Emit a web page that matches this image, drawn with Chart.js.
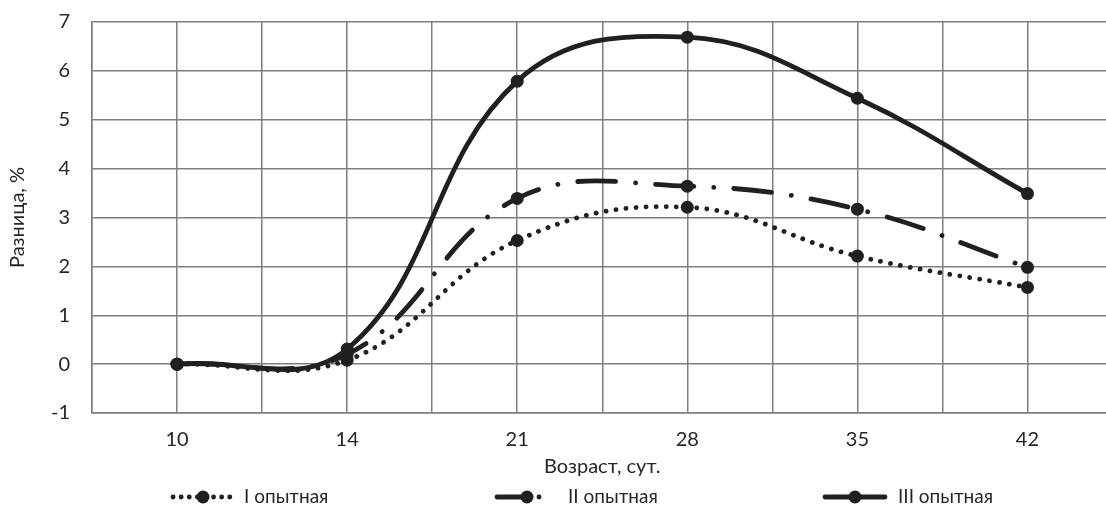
<!DOCTYPE html>
<html>
<head>
<meta charset="utf-8">
<script src="https://cdn.jsdelivr.net/npm/chart.js@4/dist/chart.umd.min.js"></script>
<style>
  html, body { margin: 0; padding: 0; background: #fff; overflow: hidden; }
  #wrap { width: 1119px; height: 515px; }
</style>
</head>
<body>
<div id="wrap"><canvas id="myChart"></canvas></div>
<script>
// Data
var days = ["10", "14", "21", "28", "35", "42"];
var exp1 = [0, 0.08, 2.53, 3.21, 2.21, 1.57];
var exp2 = [0, 0.2, 3.39, 3.64, 3.17, 1.98];
var exp3 = [0, 0.31, 5.79, 6.69, 5.44, 3.49];
var seriesNames = ["I опытная", "II опытная", "III опытная"];
var yMin = -1, yMax = 7;

var ink = '#231f20';
var textColor = '#262626';
var gridColor = '#7f7f7f';
var fontFamily = 'Lato, "Open Sans", sans-serif';

var dashes = [[0.1, 10], [38, 20, 0.1, 20], []];

function toPoints(arr) {
  return arr.map(function (v, i) { return { x: i, y: v }; });
}

function makeSet(label, arr, dash) {
  return {
    label: label,
    data: toPoints(arr),
    borderColor: ink,
    backgroundColor: ink,
    borderWidth: 4.8,
    borderDash: dash,
    borderCapStyle: 'round',
    tension: 0.4,
    pointRadius: 6.5,
    pointBackgroundColor: ink,
    pointBorderWidth: 0,
    fill: false
  };
}

// legend drawn by hand: line sample with marker, then text
var legendItems = [
  { x1: 173, x2: 233, tx: 244 },
  { x1: 497, x2: 557, tx: 568 },
  { x1: 825, x2: 885, tx: 898 }
];
var legendDash = [[0.1, 8], [28, 14, 0.1, 20], []];
var legendY = 497;

var legendPlugin = {
  id: 'handLegend',
  afterDraw: function (chart) {
    var ctx = chart.ctx;
    ctx.save();
    for (var i = 0; i < legendItems.length; i++) {
      var it = legendItems[i];
      ctx.strokeStyle = ink;
      ctx.lineWidth = 4.8;
      ctx.lineCap = 'round';
      ctx.setLineDash(legendDash[i]);
      ctx.beginPath();
      ctx.moveTo(it.x1, legendY);
      ctx.lineTo(it.x2, legendY);
      ctx.stroke();
      ctx.setLineDash([]);
      ctx.fillStyle = ink;
      ctx.beginPath();
      ctx.arc((it.x1 + it.x2) / 2, legendY, 6.5, 0, Math.PI * 2);
      ctx.fill();
      ctx.fillStyle = textColor;
      ctx.font = '19px ' + fontFamily;
      ctx.textAlign = 'left';
      ctx.textBaseline = 'middle';
      ctx.fillText(seriesNames[i], it.tx, legendY);
    }
    ctx.restore();
  }
};

var ctx = document.getElementById('myChart');
var myChart = new Chart(ctx, {
  type: 'line',
  data: {
    datasets: [
      makeSet(seriesNames[0], exp1, dashes[0]),
      makeSet(seriesNames[1], exp2, dashes[1]),
      makeSet(seriesNames[2], exp3, dashes[2])
    ]
  },
  options: {
    animation: false,
    responsive: true,
    maintainAspectRatio: false,
    layout: { padding: { top: 22, bottom: 32, left: 0, right: 0 } },
    plugins: {
      legend: { display: false },
      tooltip: { enabled: false }
    },
    scales: {
      x: {
        type: 'linear',
        min: -0.5,
        max: 5.5,
        afterFit: function (scale) { scale.height = 70; },
        // invisible tick marks give the label gap without extra layout padding
        grid: { color: gridColor, lineWidth: 1.5, drawTicks: true, tickLength: 15, tickColor: 'rgba(0,0,0,0)' },
        border: { color: gridColor, width: 1.5 },
        ticks: {
          stepSize: 0.5,
          autoSkip: false,
          maxRotation: 0,
          padding: 0,
          color: textColor,
          font: { family: fontFamily, size: 20 },
          callback: function (val) {
            return Number.isInteger(val) ? days[val] : '';
          }
        },
        title: {
          display: true,
          text: 'Возраст, сут.',
          color: textColor,
          font: { family: fontFamily, size: 20 },
          padding: { top: 0, bottom: 4 }
        }
      },
      y: {
        min: yMin,
        max: yMax,
        afterFit: function (scale) { scale.width = 92; },
        grid: { color: gridColor, lineWidth: 1.5, drawTicks: true, tickLength: 22, tickColor: 'rgba(0,0,0,0)' },
        border: { color: gridColor, width: 1.5 },
        ticks: {
          stepSize: 1,
          padding: 0,
          color: textColor,
          font: { family: fontFamily, size: 20 }
        },
        title: {
          display: true,
          text: 'Разница, %',
          color: textColor,
          font: { family: fontFamily, size: 20 },
          padding: { top: 6, bottom: 0 }
        }
      }
    }
  },
  plugins: [legendPlugin]
});
</script>
</body>
</html>
